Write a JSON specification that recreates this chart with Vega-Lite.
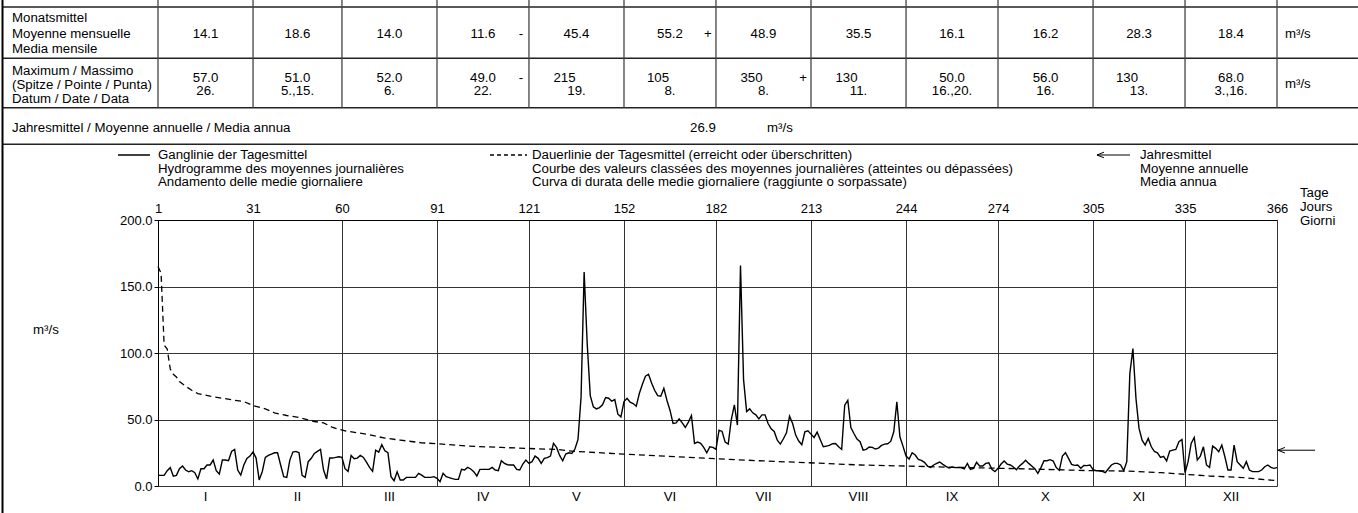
{
"$schema": "https://vega.github.io/schema/vega-lite/v6.json",
"width": 1119, "height": 266,
"autosize": {"type": "none"},
"padding": {"left": 158, "top": 220, "right": 81, "bottom": 27},
"background": "white",
"config": {
  "view": {"stroke": null},
  "font": "Liberation Sans, Arial, sans-serif",
  "text": {"font": "Liberation Sans, Arial, sans-serif", "fontSize": 13.25, "color": "#000"},
  "axis": {"labelFont": "Liberation Sans, Arial, sans-serif", "labelColor": "#000", "labelFontSize": 13}
},
"data": {"values": [{}]},
"datasets": {
"months": [
{"m":"I","first":1,"end":32,"mid":16.5,"mean":14.1,"max":"57.0","date":"26.","fm":"","fx":""},
{"m":"II","first":32,"end":61,"mid":46.5,"mean":18.6,"max":"51.0","date":"5.,15.","fm":"","fx":""},
{"m":"III","first":61,"end":92,"mid":76.5,"mean":14.0,"max":"52.0","date":"6.","fm":"","fx":""},
{"m":"IV","first":92,"end":122,"mid":107,"mean":11.6,"max":"49.0","date":"22.","fm":"-","fx":"-"},
{"m":"V","first":122,"end":153,"mid":137.5,"mean":45.4,"max":"215","date":"19.","fm":"","fx":""},
{"m":"VI","first":153,"end":183,"mid":168,"mean":55.2,"max":"105","date":"8.","fm":"+","fx":""},
{"m":"VII","first":183,"end":214,"mid":198.5,"mean":48.9,"max":"350","date":"8.","fm":"","fx":"+"},
{"m":"VIII","first":214,"end":245,"mid":229.5,"mean":35.5,"max":"130","date":"11.","fm":"","fx":""},
{"m":"IX","first":245,"end":275,"mid":260,"mean":16.1,"max":"50.0","date":"16.,20.","fm":"","fx":""},
{"m":"X","first":275,"end":306,"mid":290.5,"mean":16.2,"max":"56.0","date":"16.","fm":"","fx":""},
{"m":"XI","first":306,"end":336,"mid":321,"mean":28.3,"max":"130","date":"13.","fm":"","fx":""},
{"m":"XII","first":336,"end":366,"mid":351,"mean":18.4,"max":"68.0","date":"3.,16.","fm":"","fx":""}
],
"dur": [
{"r":1,"q":165},{"r":2,"q":160},{"r":3,"q":106},{"r":4,"q":103},{"r":5,"q":88},{"r":6,"q":84},{"r":7,"q":82},{"r":8,"q":78.5},{"r":10,"q":75},{"r":12,"q":72},{"r":14,"q":69.5},{"r":18,"q":67.5},{"r":22,"q":66},{"r":26,"q":64.5},{"r":29,"q":63.5},{"r":32,"q":60.5},{"r":36,"q":58},{"r":39,"q":55},{"r":43,"q":53},{"r":47,"q":51.5},{"r":52,"q":48.5},{"r":55,"q":47.5},{"r":58,"q":44},{"r":62,"q":41.5},{"r":69,"q":39},{"r":75,"q":36},{"r":80,"q":34.5},{"r":87,"q":32.5},{"r":92,"q":31.8},{"r":102,"q":30},{"r":113,"q":29},{"r":124,"q":28},{"r":131,"q":27.5},{"r":137,"q":26},{"r":153,"q":24},{"r":170,"q":22},{"r":183,"q":20.5},{"r":197,"q":19},{"r":213,"q":17.5},{"r":230,"q":15.8},{"r":245,"q":15},{"r":262,"q":14},{"r":276,"q":13.3},{"r":290,"q":12.5},{"r":306,"q":11.5},{"r":317,"q":11.2},{"r":328,"q":10},{"r":336,"q":8.8},{"r":344,"q":7.5},{"r":355,"q":6.3},{"r":366,"q":4}
],
"daily": [
{"d":1,"q":8},{"d":2,"q":8},{"d":3,"q":8},{"d":4,"q":11.5},{"d":5,"q":13.8},{"d":6,"q":7.4},{"d":7,"q":8},{"d":8,"q":13},{"d":9,"q":15},{"d":10,"q":12},{"d":11,"q":10.7},{"d":12,"q":11.5},{"d":13,"q":10},{"d":14,"q":5.3},{"d":15,"q":13},{"d":16,"q":13},{"d":17,"q":15.8},{"d":18,"q":15.8},{"d":19,"q":19.5},{"d":20,"q":11.5},{"d":21,"q":9},{"d":22,"q":19.5},{"d":23,"q":19.5},{"d":24,"q":19},{"d":25,"q":26},{"d":26,"q":27.5},{"d":27,"q":12},{"d":28,"q":8.2},{"d":29,"q":15.8},{"d":30,"q":20.8},{"d":31,"q":22.5},
{"d":32,"q":25.6},{"d":33,"q":21},{"d":34,"q":4.5},{"d":35,"q":10.7},{"d":36,"q":21.5},{"d":37,"q":23},{"d":38,"q":24},{"d":39,"q":25},{"d":40,"q":25},{"d":41,"q":15.8},{"d":42,"q":7},{"d":43,"q":6.5},{"d":44,"q":19.5},{"d":45,"q":25.5},{"d":46,"q":26},{"d":47,"q":25},{"d":48,"q":8},{"d":49,"q":6.5},{"d":50,"q":18.3},{"d":51,"q":20.8},{"d":52,"q":24.5},{"d":53,"q":26},{"d":54,"q":27.5},{"d":55,"q":12},{"d":56,"q":5.3},{"d":57,"q":21},{"d":58,"q":21},{"d":59,"q":21.5},{"d":60,"q":22},
{"d":61,"q":21.5},{"d":62,"q":13},{"d":63,"q":11},{"d":64,"q":23},{"d":65,"q":20.5},{"d":66,"q":21},{"d":67,"q":23},{"d":68,"q":21.5},{"d":69,"q":18},{"d":70,"q":14},{"d":71,"q":11},{"d":72,"q":27},{"d":73,"q":25.5},{"d":74,"q":31},{"d":75,"q":26.5},{"d":76,"q":25},{"d":77,"q":7},{"d":78,"q":4},{"d":79,"q":10.7},{"d":80,"q":4.5},{"d":81,"q":4.5},{"d":82,"q":6.5},{"d":83,"q":6.5},{"d":84,"q":6.5},{"d":85,"q":6.5},{"d":86,"q":9.5},{"d":87,"q":8.2},{"d":88,"q":6.5},{"d":89,"q":6.5},{"d":90,"q":6.5},{"d":91,"q":7},
{"d":92,"q":5.8},{"d":93,"q":3.3},{"d":94,"q":9.5},{"d":95,"q":7},{"d":96,"q":6.3},{"d":97,"q":5.5},{"d":98,"q":5},{"d":99,"q":5},{"d":100,"q":12.5},{"d":101,"q":12},{"d":102,"q":14},{"d":103,"q":12.8},{"d":104,"q":10.8},{"d":105,"q":7.5},{"d":106,"q":12.5},{"d":107,"q":12.5},{"d":108,"q":12.5},{"d":109,"q":12.5},{"d":110,"q":14},{"d":111,"q":12},{"d":112,"q":11.5},{"d":113,"q":19},{"d":114,"q":17},{"d":115,"q":16},{"d":116,"q":15.8},{"d":117,"q":15.8},{"d":118,"q":12.5},{"d":119,"q":12},{"d":120,"q":16.5},{"d":121,"q":19.5},
{"d":122,"q":17},{"d":123,"q":18.3},{"d":124,"q":22.5},{"d":125,"q":20.8},{"d":126,"q":17},{"d":127,"q":20.8},{"d":128,"q":21.3},{"d":129,"q":22.5},{"d":130,"q":32},{"d":131,"q":29},{"d":132,"q":23},{"d":133,"q":19},{"d":134,"q":24},{"d":135,"q":25},{"d":136,"q":24.5},{"d":137,"q":27.8},{"d":138,"q":35},{"d":139,"q":67},{"d":140,"q":160.8},{"d":141,"q":107},{"d":142,"q":68},{"d":143,"q":59.5},{"d":144,"q":58},{"d":145,"q":59},{"d":146,"q":61},{"d":147,"q":66.5},{"d":148,"q":66},{"d":149,"q":63.8},{"d":150,"q":65},{"d":151,"q":54},{"d":152,"q":52},
{"d":153,"q":63.5},{"d":154,"q":66},{"d":155,"q":63},{"d":156,"q":62},{"d":157,"q":60},{"d":158,"q":69.5},{"d":159,"q":76.5},{"d":160,"q":82.5},{"d":161,"q":84},{"d":162,"q":77.5},{"d":163,"q":72},{"d":164,"q":68},{"d":165,"q":67.5},{"d":166,"q":73.5},{"d":167,"q":64.5},{"d":168,"q":57},{"d":169,"q":47},{"d":170,"q":47.5},{"d":171,"q":50.5},{"d":172,"q":47.5},{"d":173,"q":44},{"d":174,"q":48},{"d":175,"q":53},{"d":176,"q":32},{"d":177,"q":33},{"d":178,"q":32},{"d":179,"q":29},{"d":180,"q":25},{"d":181,"q":29.5},{"d":182,"q":29},
{"d":183,"q":27.5},{"d":184,"q":42},{"d":185,"q":41},{"d":186,"q":33},{"d":187,"q":31.5},{"d":188,"q":50},{"d":189,"q":61},{"d":190,"q":45.8},{"d":191,"q":165.8},{"d":192,"q":80},{"d":193,"q":56},{"d":194,"q":58},{"d":195,"q":55},{"d":196,"q":53.5},{"d":197,"q":50.5},{"d":198,"q":53.5},{"d":199,"q":53.5},{"d":200,"q":47},{"d":201,"q":43},{"d":202,"q":41},{"d":203,"q":34.5},{"d":204,"q":31.5},{"d":205,"q":35.5},{"d":206,"q":40},{"d":207,"q":52.5},{"d":208,"q":47},{"d":209,"q":38.3},{"d":210,"q":33.8},{"d":211,"q":31},{"d":212,"q":40.8},{"d":213,"q":41.5},
{"d":214,"q":39},{"d":215,"q":36.5},{"d":216,"q":40.5},{"d":217,"q":35},{"d":218,"q":29.5},{"d":219,"q":30},{"d":220,"q":30.5},{"d":221,"q":31.8},{"d":222,"q":32},{"d":223,"q":29.5},{"d":224,"q":27.5},{"d":225,"q":60.8},{"d":226,"q":64.5},{"d":227,"q":44},{"d":228,"q":39.5},{"d":229,"q":35.3},{"d":230,"q":33.3},{"d":231,"q":27},{"d":232,"q":27.5},{"d":233,"q":29.3},{"d":234,"q":29},{"d":235,"q":27.8},{"d":236,"q":28.5},{"d":237,"q":30.5},{"d":238,"q":31.5},{"d":239,"q":31.8},{"d":240,"q":33.5},{"d":241,"q":40.8},{"d":242,"q":63.3},{"d":243,"q":37},{"d":244,"q":30},
{"d":245,"q":22.5},{"d":246,"q":20.3},{"d":247,"q":25},{"d":248,"q":23.3},{"d":249,"q":20},{"d":250,"q":19.3},{"d":251,"q":17.8},{"d":252,"q":15},{"d":253,"q":14},{"d":254,"q":15.8},{"d":255,"q":17},{"d":256,"q":18},{"d":257,"q":16.3},{"d":258,"q":14.8},{"d":259,"q":13.5},{"d":260,"q":14.3},{"d":261,"q":13.8},{"d":262,"q":14},{"d":263,"q":13.8},{"d":264,"q":12.8},{"d":265,"q":17},{"d":266,"q":12.5},{"d":267,"q":13.3},{"d":268,"q":17.8},{"d":269,"q":15},{"d":270,"q":15},{"d":271,"q":17},{"d":272,"q":17.5},{"d":273,"q":12.5},{"d":274,"q":10.8},
{"d":275,"q":13.3},{"d":276,"q":16.5},{"d":277,"q":18.8},{"d":278,"q":16.5},{"d":279,"q":15.8},{"d":280,"q":14.3},{"d":281,"q":12.3},{"d":282,"q":15},{"d":283,"q":17},{"d":284,"q":19.3},{"d":285,"q":17},{"d":286,"q":15},{"d":287,"q":13},{"d":288,"q":9.5},{"d":289,"q":13.8},{"d":290,"q":19},{"d":291,"q":19},{"d":292,"q":19.8},{"d":293,"q":18.8},{"d":294,"q":13.8},{"d":295,"q":11.8},{"d":296,"q":22.5},{"d":297,"q":25},{"d":298,"q":20.8},{"d":299,"q":16.3},{"d":300,"q":15.5},{"d":301,"q":15.8},{"d":302,"q":13.3},{"d":303,"q":15.5},{"d":304,"q":15.3},{"d":305,"q":15.8},
{"d":306,"q":12.3},{"d":307,"q":11.5},{"d":308,"q":11.5},{"d":309,"q":11},{"d":310,"q":10},{"d":311,"q":13},{"d":312,"q":15.8},{"d":313,"q":17},{"d":314,"q":17},{"d":315,"q":15.8},{"d":316,"q":11.5},{"d":317,"q":18.3},{"d":318,"q":84.5},{"d":319,"q":103.3},{"d":320,"q":65.8},{"d":321,"q":43.3},{"d":322,"q":34.5},{"d":323,"q":30.8},{"d":324,"q":35.8},{"d":325,"q":29.5},{"d":326,"q":26},{"d":327,"q":25},{"d":328,"q":21.5},{"d":329,"q":22.3},{"d":330,"q":18.8},{"d":331,"q":26.3},{"d":332,"q":27},{"d":333,"q":27.5},{"d":334,"q":33.3},{"d":335,"q":35},
{"d":336,"q":10},{"d":337,"q":18.3},{"d":338,"q":32},{"d":339,"q":36.5},{"d":340,"q":19.5},{"d":341,"q":22.5},{"d":342,"q":29.5},{"d":343,"q":15.8},{"d":344,"q":14},{"d":345,"q":30},{"d":346,"q":28.3},{"d":347,"q":25.8},{"d":348,"q":30.8},{"d":349,"q":22},{"d":350,"q":12},{"d":351,"q":12},{"d":352,"q":30.8},{"d":353,"q":18.3},{"d":354,"q":15.8},{"d":355,"q":13.3},{"d":356,"q":18.3},{"d":357,"q":12},{"d":358,"q":10.8},{"d":359,"q":10.8},{"d":360,"q":10.8},{"d":361,"q":12},{"d":362,"q":14.5},{"d":363,"q":15.8},{"d":364,"q":14},{"d":365,"q":13.3},{"d":366,"q":13.8}
]
},
"layer": [
{"data": {"name": "daily"},
 "mark": {"type": "line", "color": "#000", "strokeWidth": 1.4},
 "encoding": {
  "x": {"field": "d", "type": "quantitative", "scale": {"domain": [1, 366], "nice": false, "zero": false},
        "axis": {"orient": "top", "values": [1,32,61,92,122,153,183,214,245,275,306,336,366], "format": "d",
                 "labelExpr": "datum.value <= 1 || datum.value >= 366 ? datum.label : '' + (datum.value - 1)",
                 "grid": true, "gridColor": "#333", "gridWidth": 1, "ticks": false, "domain": true, "domainColor": "#000",
                 "labelPadding": 5, "labelFlush": false, "labelOverlap": false, "labelBound": false, "title": null}},
  "y": {"field": "q", "type": "quantitative", "scale": {"domain": [0, 200], "nice": false, "zero": false},
        "axis": {"orient": "left", "values": [0,50,100,150,200], "format": ".1f", "grid": true, "gridColor": "#333", "gridWidth": 1,
                 "tickSize": 4, "tickColor": "#000", "domainColor": "#000", "labelPadding": 2, "labelFlush": false, "labelOverlap": false, "title": null}}
 }},
{"data": {"name": "dur"},
 "mark": {"type": "line", "color": "#000", "strokeWidth": 1.3, "strokeDash": [6, 4]},
 "encoding": {"x": {"field": "r", "type": "quantitative"}, "y": {"field": "q", "type": "quantitative"}}},
{"mark": {"type": "rule", "color": "#000", "strokeWidth": 1},
 "encoding": {"x": {"datum": 366.3, "type": "quantitative"}, "x2": {"datum": 378.4}, "y": {"datum": 26.9, "type": "quantitative"}}},
{"mark": {"type": "point", "shape": "M 2 -0.8 L 0 0 L 2 0.8", "size": 49, "filled": false, "color": "#000", "strokeWidth": 1, "opacity": 1},
 "encoding": {"x": {"datum": 366.3, "type": "quantitative"}, "y": {"datum": 26.9, "type": "quantitative"}}},
{"data": {"name": "months"},
 "mark": {"type": "text", "baseline": "middle", "align": "center"},
 "encoding": {"x": {"field": "mid", "type": "quantitative"}, "y": {"datum": -8.27, "type": "quantitative"}, "text": {"field": "m"}}},
{"mark": {"type": "rule", "color": "#222", "strokeWidth": 1.5},
 "encoding": {"x": {"datum": -49.72, "type": "quantitative"}, "x2": {"datum": 392.4}, "y": {"datum": 360.15, "type": "quantitative"}}},
{"mark": {"type": "rule", "color": "#222", "strokeWidth": 1.5},
 "encoding": {"x": {"datum": -49.72, "type": "quantitative"}, "x2": {"datum": 392.4}, "y": {"datum": 321.58, "type": "quantitative"}}},
{"mark": {"type": "rule", "color": "#222", "strokeWidth": 1.5},
 "encoding": {"x": {"datum": -49.72, "type": "quantitative"}, "x2": {"datum": 392.4}, "y": {"datum": 284.36, "type": "quantitative"}}},
{"mark": {"type": "rule", "color": "#222", "strokeWidth": 1.5},
 "encoding": {"x": {"datum": -49.72, "type": "quantitative"}, "x2": {"datum": 392.4}, "y": {"datum": 256.9, "type": "quantitative"}}},
{"data": {"name": "months"},
 "mark": {"type": "rule", "color": "#444", "strokeWidth": 1.3},
 "encoding": {"x": {"field": "end", "type": "quantitative"}, "y": {"datum": 365.41, "type": "quantitative"}, "y2": {"datum": 284.36}}},
{"mark": {"type": "rule", "color": "#444", "strokeWidth": 1.3},
 "encoding": {"x": {"datum": 1, "type": "quantitative"}, "y": {"datum": 365.41, "type": "quantitative"}, "y2": {"datum": 284.36}}},
{"mark": {"type": "rule", "color": "#000", "strokeWidth": 2},
 "encoding": {"x": {"datum": -49.72, "type": "quantitative"}, "y": {"datum": 365.41, "type": "quantitative"}, "y2": {"datum": -20.3}}},
{"data": {"name": "months"},
 "mark": {"type": "text", "baseline": "middle", "align": "center"},
 "encoding": {"x": {"field": "mid", "type": "quantitative"}, "y": {"datum": 339.85, "type": "quantitative"}, "text": {"field": "mean", "type": "quantitative", "format": ".1f"}}},
{"data": {"name": "months"}, "transform": [{"filter": "datum.fm != ''"}],
 "mark": {"type": "text", "baseline": "middle", "align": "center", "dx": -8},
 "encoding": {"x": {"field": "end", "type": "quantitative"}, "y": {"datum": 339.85, "type": "quantitative"}, "text": {"field": "fm"}}},
{"data": {"name": "months"}, "transform": [{"filter": "length(datum.max) > 3"}],
 "mark": {"type": "text", "baseline": "middle", "align": "center"},
 "encoding": {"x": {"field": "mid", "type": "quantitative"}, "y": {"datum": 307.14, "type": "quantitative"}, "text": {"field": "max"}}},
{"data": {"name": "months"}, "transform": [{"filter": "length(datum.max) <= 3"}],
 "mark": {"type": "text", "baseline": "middle", "align": "center", "dx": -12},
 "encoding": {"x": {"field": "mid", "type": "quantitative"}, "y": {"datum": 307.14, "type": "quantitative"}, "text": {"field": "max"}}},
{"data": {"name": "months"},
 "mark": {"type": "text", "baseline": "middle", "align": "center"},
 "encoding": {"x": {"field": "mid", "type": "quantitative"}, "y": {"datum": 297.22, "type": "quantitative"}, "text": {"field": "date"}}},
{"data": {"name": "months"}, "transform": [{"filter": "datum.fx != ''"}],
 "mark": {"type": "text", "baseline": "middle", "align": "center", "dx": -8},
 "encoding": {"x": {"field": "end", "type": "quantitative"}, "y": {"datum": 307.14, "type": "quantitative"}, "text": {"field": "fx"}}},
{"mark": {"type": "text", "baseline": "middle", "align": "left", "text": "m³/s"},
 "encoding": {"x": {"datum": 368.6, "type": "quantitative"}, "y": {"datum": 339.85, "type": "quantitative"}}},
{"mark": {"type": "text", "baseline": "middle", "align": "left", "text": "m³/s"},
 "encoding": {"x": {"datum": 368.6, "type": "quantitative"}, "y": {"datum": 301.88, "type": "quantitative"}}},
{"mark": {"type": "text", "baseline": "middle", "align": "left", "lineHeight": 15.3, "text": ["Monatsmittel", "Moyenne mensuelle", "Media mensile"]},
 "encoding": {"x": {"datum": -46.62, "type": "quantitative"}, "y": {"datum": 351.65, "type": "quantitative"}}},
{"mark": {"type": "text", "baseline": "middle", "align": "left", "lineHeight": 14.2, "text": ["Maximum / Massimo", "(Spitze / Pointe / Punta)", "Datum / Date / Data"]},
 "encoding": {"x": {"datum": -46.62, "type": "quantitative"}, "y": {"datum": 312.26, "type": "quantitative"}}},
{"mark": {"type": "text", "baseline": "middle", "align": "left", "text": "Jahresmittel / Moyenne annuelle / Media annua"},
 "encoding": {"x": {"datum": -46.62, "type": "quantitative"}, "y": {"datum": 269.17, "type": "quantitative"}}},
{"mark": {"type": "text", "baseline": "middle", "align": "center", "text": "26.9"},
 "encoding": {"x": {"datum": 178.77, "type": "quantitative"}, "y": {"datum": 269.17, "type": "quantitative"}}},
{"mark": {"type": "text", "baseline": "middle", "align": "left", "text": "m³/s"},
 "encoding": {"x": {"datum": 199.65, "type": "quantitative"}, "y": {"datum": 269.17, "type": "quantitative"}}},
{"mark": {"type": "rule", "color": "#000", "strokeWidth": 1.3},
 "encoding": {"x": {"datum": -12.05, "type": "quantitative"}, "x2": {"datum": -1.61}, "y": {"datum": 248.87, "type": "quantitative"}}},
{"mark": {"type": "rule", "color": "#000", "strokeWidth": 1.3, "strokeDash": [4, 3]},
 "encoding": {"x": {"datum": 109.29, "type": "quantitative"}, "x2": {"datum": 121.36}, "y": {"datum": 248.87, "type": "quantitative"}}},
{"mark": {"type": "rule", "color": "#000", "strokeWidth": 1},
 "encoding": {"x": {"datum": 307.28, "type": "quantitative"}, "x2": {"datum": 318.05}, "y": {"datum": 248.87, "type": "quantitative"}}},
{"mark": {"type": "point", "shape": "M 2 -0.8 L 0 0 L 2 0.8", "size": 49, "filled": false, "color": "#000", "strokeWidth": 1, "opacity": 1},
 "encoding": {"x": {"datum": 307.28, "type": "quantitative"}, "y": {"datum": 248.87, "type": "quantitative"}}},
{"mark": {"type": "text", "baseline": "middle", "align": "left", "lineHeight": 13.5, "text": ["Ganglinie der Tagesmittel", "Hydrogramme des moyennes journalières", "Andamento delle medie giornaliere"]},
 "encoding": {"x": {"datum": 1, "type": "quantitative"}, "y": {"datum": 248.87, "type": "quantitative"}}},
{"mark": {"type": "text", "baseline": "middle", "align": "left", "lineHeight": 13.5, "text": ["Dauerlinie der Tagesmittel (erreicht oder überschritten)", "Courbe des valeurs classées des moyennes journalières (atteintes ou dépassées)", "Curva di durata delle medie giornaliere (raggiunte o sorpassate)"]},
 "encoding": {"x": {"datum": 122.99, "type": "quantitative"}, "y": {"datum": 248.87, "type": "quantitative"}}},
{"mark": {"type": "text", "baseline": "middle", "align": "left", "lineHeight": 13.5, "text": ["Jahresmittel", "Moyenne annuelle", "Media annua"]},
 "encoding": {"x": {"datum": 321.31, "type": "quantitative"}, "y": {"datum": 248.87, "type": "quantitative"}}},
{"mark": {"type": "text", "baseline": "middle", "align": "left", "lineHeight": 14, "text": ["Tage", "Jours", "Giorni"]},
 "encoding": {"x": {"datum": 373.5, "type": "quantitative"}, "y": {"datum": 220.3, "type": "quantitative"}}},
{"mark": {"type": "text", "baseline": "middle", "align": "left", "text": "m³/s"},
 "encoding": {"x": {"datum": -39.77, "type": "quantitative"}, "y": {"datum": 117.29, "type": "quantitative"}}}
]
}
